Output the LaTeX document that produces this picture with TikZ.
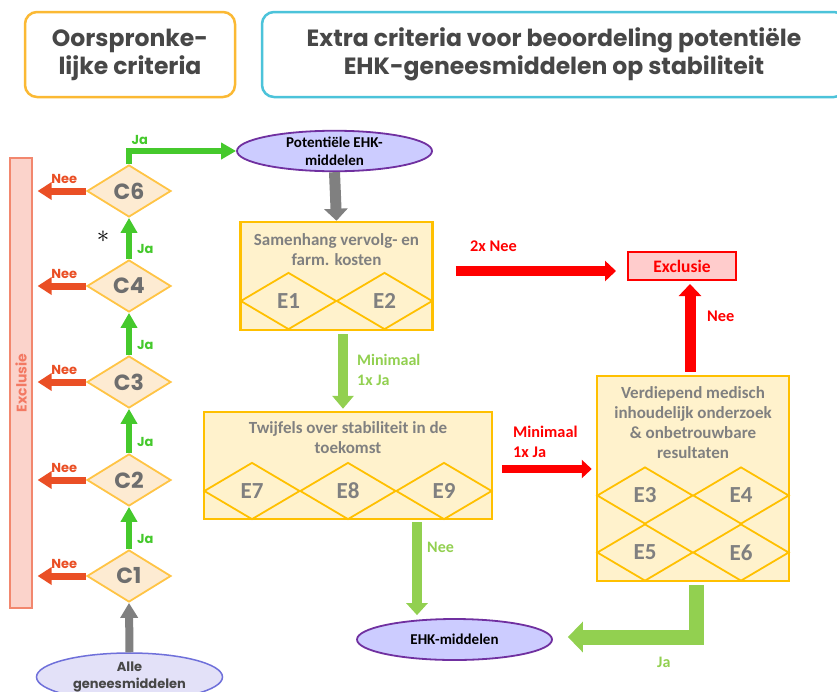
\documentclass[tikz,border=0pt]{standalone}
\usepackage{fontspec}
\setmainfont{Carlito}
\newfontfamily\rondfont{Poppins}
\usetikzlibrary{positioning,calc,arrows.meta,shapes.geometric}

\definecolor{kopgeel}{HTML}{FBB934}
\definecolor{kopblauw}{HTML}{4CC3DA}
\definecolor{kopgrijs}{HTML}{474747}
\definecolor{balkvul}{HTML}{FBD3CB}
\definecolor{balkrand}{HTML}{F2876E}
\definecolor{neerood}{HTML}{EA4F25}
\definecolor{jagroen}{HTML}{45C92C}
\definecolor{critvul}{HTML}{FDEBD2}
\definecolor{critrand}{HTML}{FFC445}
\definecolor{critgrijs}{HTML}{6E6E6E}
\definecolor{boxvul}{HTML}{FFF2CC}
\definecolor{boxrand}{HTML}{FFC000}
\definecolor{boxgrijs}{HTML}{808080}
\definecolor{lichtgroen}{HTML}{92D050}
\definecolor{elvul}{HTML}{CCCCFF}
\definecolor{elrand}{HTML}{7030A0}
\definecolor{allevul}{HTML}{E3E1F8}
\definecolor{allerand}{HTML}{6F70DA}
\definecolor{exclvul}{HTML}{FFCCCC}

\tikzset{
	kop/.style={draw, line width=2.5, rounded corners=12, align=center, text=kopgrijs, font=\rondfont\bfseries\fontsize{23.5}{28}\selectfont},
	crit/.style={diamond, draw=critrand, fill=critvul, line width=1.8, minimum width=84, minimum height=52, inner sep=0, text=critgrijs, font=\rondfont\bfseries\fontsize{22}{24}\selectfont},
	ediam/.style={diamond, draw=boxrand, line width=1.8, minimum width=96, minimum height=57, inner sep=0, text=boxgrijs, font=\bfseries\fontsize{23}{24}\selectfont},
	stapbox/.style={draw=boxrand, fill=boxvul, line width=2.5, inner sep=0},
	boxtekst/.style={align=center, text=boxgrijs, font=\bfseries\fontsize{17}{20}\selectfont},
	middel/.style={ellipse, draw=elrand, fill=elvul, line width=1.8, inner sep=0, align=center, font=\bfseries\fontsize{15}{18}\selectfont},
	neepijl/.style={draw=neerood, line width=7, -{Triangle[width=17pt,length=14pt]}},
	japijl/.style={draw=jagroen, line width=6, -{Triangle[width=16pt,length=15pt]}},
	neelabel/.style={text=neerood, inner sep=1pt, font=\rondfont\bfseries\fontsize{13}{14}\selectfont},
	jalabel/.style={text=jagroen, inner sep=1pt, font=\rondfont\bfseries\fontsize{13}{14}\selectfont},
	roodlabel/.style={text=red, align=left, inner sep=0, font=\bfseries\fontsize{16.3}{20}\selectfont},
	groenlabel/.style={text=lichtgroen, align=left, inner sep=0, font=\bfseries\fontsize{16}{20}\selectfont}
}

\begin{document}
\begin{tikzpicture}[x=1pt, y=-1pt]
	\clip (0,0) rectangle (837,691);
	\fill[white] (0,0) rectangle (837,691);

	\node[kop, draw=kopgeel, minimum width=210, minimum height=85] (kop1) at (130,54.5) {Oorspronke-\\lijke criteria};
	\node[kop, draw=kopblauw, minimum width=584, minimum height=85] (kop2) at (554,54.5) {Extra criteria voor beoordeling potentiële\\EHK-geneesmiddelen op stabiliteit};

	\node[draw=balkrand, fill=balkvul, line width=1.2, rotate=90, minimum width=450, minimum height=22, inner sep=0, text=balkrand!90!red, font=\rondfont\bfseries\fontsize{14}{15}\selectfont] (exclbalk) at (21,383) {Exclusie};

	\node[crit] (c1) at (129,576) {C1};
	\node[crit] (c2) at (129,480) {C2};
	\node[crit] (c3) at (129,382) {C3};
	\node[crit] (c4) at (129,286) {C4};
	\node[crit] (c6) at (129,191) {C6};
	\node[font=\fontsize{24}{24}\selectfont, inner sep=0] (ster) at (103,237) {$\ast$};

	\node[ellipse, draw=allerand, fill=allevul, line width=1.5, minimum width=186, minimum height=48, inner sep=0, align=center, text=kopgrijs, font=\rondfont\bfseries\fontsize{13}{17}\selectfont] (alle) at (129.5,677) {Alle\\geneesmiddelen};

	\draw[neepijl] (c1.west) -- ($(c1.west -| exclbalk.south)+(5,0)$) node[neelabel, pos=0.45, above=3pt] (nee1) {Nee};
	\draw[neepijl] (c2.west) -- ($(c2.west -| exclbalk.south)+(5,0)$) node[neelabel, pos=0.45, above=3pt] (nee2) {Nee};
	\draw[neepijl] (c3.west) -- ($(c3.west -| exclbalk.south)+(5,0)$) node[neelabel, pos=0.45, above=3pt] (nee3) {Nee};
	\draw[neepijl] (c4.west) -- ($(c4.west -| exclbalk.south)+(5,0)$) node[neelabel, pos=0.45, above=3pt] (nee4) {Nee};
	\draw[neepijl] (c6.west) -- ($(c6.west -| exclbalk.south)+(5,0)$) node[neelabel, pos=0.45, above=3pt] (nee6) {Nee};

	\draw[japijl] (c1.north) -- (c2.south) node[jalabel, pos=0.25, right=4pt] (ja1) {Ja};
	\draw[japijl] (c2.north) -- (c3.south) node[jalabel, pos=0.25, right=4pt] (ja2) {Ja};
	\draw[japijl] (c3.north) -- (c4.south) node[jalabel, pos=0.25, right=4pt] (ja3) {Ja};
	\draw[japijl] (c4.north) -- (c6.south) node[jalabel, pos=0.25, right=4pt] (ja4) {Ja};
	\draw[draw=boxgrijs, line width=8, -{Triangle[width=17pt,length=15pt]}] (alle.north) -- (c1.south);

	\node[middel, minimum width=195, minimum height=40] (pot) at (334.5,151) {Potentiële EHK-\\middelen};
	\draw[japijl, line join=miter] (c6.north) |- (pot.west) node[jalabel, pos=0.55, above=2pt] (ja6) {Ja};

	\node[stapbox, minimum width=192, minimum height=108] (samen) at (336.5,276) {};
	\node[boxtekst] (samentitel) at (336.5,249.5) {Samenhang vervolg- en\\farm. kosten};
	\node[ediam] (e1) at (288.5,301) {E1};
	\node[ediam] (e2) at (384.5,301) {E2};
	\draw[draw=boxgrijs, line width=11, -{Triangle[width=23pt,length=12pt]}] (pot.south) -- (samen.north);

	\node[stapbox, minimum width=288, minimum height=107] (twijfel) at (348,465.5) {};
	\node[boxtekst] (twijfeltitel) at (348,438) {Twijfels over stabiliteit in de\\toekomst};
	\node[ediam] (e7) at (252,491) {E7};
	\node[ediam] (e8) at (348,491) {E8};
	\node[ediam] (e9) at (444,491) {E9};
	\draw[draw=lichtgroen, line width=10, -{Triangle[width=21pt,length=13pt]}] ($(samen.south)+(6.5,3)$) -- ($(samen.south |- twijfel.north)+(6.5,-2)$);
	\node[groenlabel, anchor=west] (minja) at (357,370) {Minimaal\\1x Ja};

	\node[stapbox, minimum width=192, minimum height=205] (verdiep) at (693,478.5) {};
	\node[boxtekst] (verdieptitel) at (693,422.5) {Verdiepend medisch\\inhoudelijk onderzoek\\\& onbetrouwbare\\resultaten};
	\node[ediam] (e3) at (645,495.5) {E3};
	\node[ediam] (e4) at (741,495.5) {E4};
	\node[ediam] (e5) at (645,552.5) {E5};
	\node[ediam] (e6) at (741,552.5) {E6};

	\node[draw=red, fill=exclvul, line width=2, minimum width=108, minimum height=28, inner sep=0, text=red, font=\bfseries\fontsize{17.5}{18}\selectfont] (exclbox) at (682,266) {Exclusie};

	\draw[draw=red, line width=10, -{Triangle[width=20pt,length=11pt]}] ($(samen.east |- exclbox.west)+(22,5)$) -- ($(exclbox.west)+(-11,5)$);
	\node[roodlabel, anchor=west] (neetwee) at (470,246) {2x Nee};
	\draw[draw=red, line width=11, -{Triangle[width=22pt,length=12pt]}] ($(verdiep.north)+(-3,-3)$) -- ($(verdiep.north |- exclbox.south)+(-3,3)$);
	\node[roodlabel, anchor=west] (neeverdiep) at (707,316) {Nee};
	\draw[draw=red, line width=8, -{Triangle[width=18pt,length=10pt]}] ($(twijfel.east)+(9,3.5)$) -- ($(verdiep.west |- twijfel.east)+(-4,3.5)$);
	\node[roodlabel, anchor=west] (minjarood) at (513,442) {Minimaal\\1x Ja};

	\node[middel, minimum width=195, minimum height=41] (ehk) at (454.5,639.5) {EHK-middelen};
	\draw[draw=lichtgroen, line width=10, -{Triangle[width=21pt,length=12pt]}] ($(twijfel.south)+(69,2)$) -- ($(twijfel.south |- ehk.north)+(69,-3)$);
	\node[groenlabel, anchor=west] (neeehk) at (427,547) {Nee};
	\draw[draw=lichtgroen, line width=15, line join=miter, -{Triangle[width=30pt,length=15pt]}] ($(verdiep.south)+(3,3)$) |- ($(ehk.east)+(15,-2.5)$);
	\node[groenlabel, anchor=west] (jaehk) at (657,662) {Ja};
\end{tikzpicture}
\end{document}
